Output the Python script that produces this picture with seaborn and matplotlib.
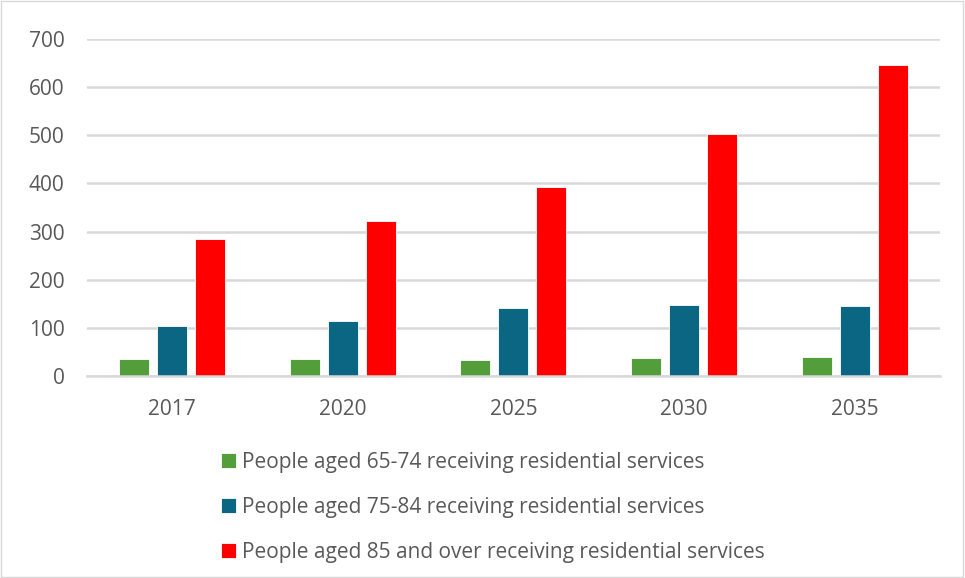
import matplotlib
matplotlib.use("Agg")
import matplotlib.pyplot as plt
import pandas as pd
import seaborn as sns

years = ["2017", "2020", "2025", "2030", "2035"]
series = [
    "People aged 65-74 receiving residential services",
    "People aged 75-84 receiving residential services",
    "People aged 85 and over receiving residential services",
]
aged_65_74 = [35, 36, 34, 38, 41]
aged_75_84 = [104, 115, 141, 148, 145]
aged_85_plus = [284, 322, 393, 502, 646]
colors = ["#539d3a", "#0b6684", "#ff0000"]

df = pd.DataFrame({
    "year": years * 3,
    "group": [series[0]] * 5 + [series[1]] * 5 + [series[2]] * 5,
    "value": aged_65_74 + aged_75_84 + aged_85_plus,
})

sns.set_theme(style="white")
plt.rcParams["font.family"] = ["Open Sans", "DejaVu Sans"]
txt = "#595959"

fig = plt.figure(figsize=(9.65, 5.78), dpi=100)
ax = fig.add_axes([0.090, 0.349, 0.884, 0.584])
sns.barplot(data=df, x="year", y="value", hue="group", palette=colors,
            saturation=1, width=0.668, gap=0.21, edgecolor="white", linewidth=0.6,
            ax=ax, legend=True)

ax.set_ylim(0, 700)
ax.set_xlim(-0.5, 4.5)
ax.set_yticks(range(0, 701, 100))
ax.yaxis.grid(True, color="#d9d9d9", lw=1.8)
ax.set_axisbelow(True)
for s in ["top", "right", "left"]:
    ax.spines[s].set_visible(False)
ax.spines["bottom"].set_color("#d9d9d9")
ax.spines["bottom"].set_linewidth(1.8)
ax.tick_params(axis="both", length=0, labelsize=15, colors=txt)
ax.tick_params(axis="x", pad=16)
ax.tick_params(axis="y", pad=16)
ax.set_xlabel("")
ax.set_ylabel("")

handles, labels = ax.get_legend_handles_labels()
ax.legend_.remove()
fig.legend(handles, labels, loc="upper left", bbox_to_anchor=(0.229, 0.218),
           frameon=False, fontsize=15, labelcolor=txt, handlelength=0.7,
           handleheight=0.7, handletextpad=0.3, labelspacing=1.15,
           borderpad=0, borderaxespad=0)

fig.patches.append(plt.Rectangle((0.001, 0.001), 0.997, 0.997, transform=fig.transFigure,
                                 fill=False, edgecolor="#d9d9d9", lw=1))
fig.savefig("out.png", dpi=100)
